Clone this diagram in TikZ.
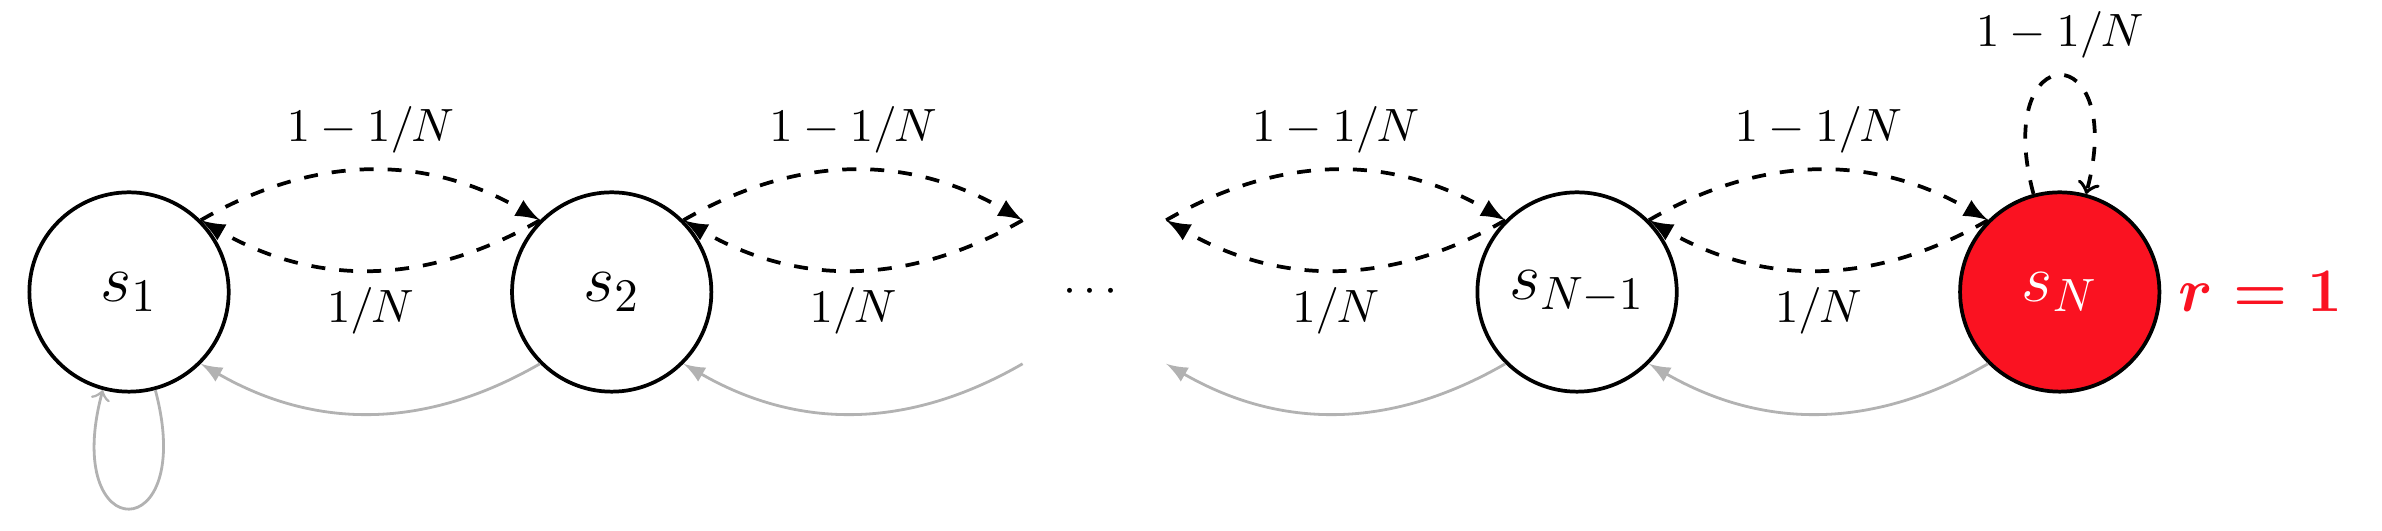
\documentclass[tikz,border=0pt]{standalone}
\usepackage{amsmath}
\usepackage{graphicx}
\usepackage{tikz}
\usetikzlibrary{positioning}
\usetikzlibrary{arrows}
\definecolor{rouge}{rgb}{0.98,0.07,0.13}
\definecolor{gris}{rgb}{0.70,0.70,0.70}

\begin{document}
\begin{tikzpicture}[thick, node distance=3.632cm, on grid,
				state/.style = {circle, draw, font=\Large,
					minimum size = 1.5cm},
				ghost/.style = {circle,
					minimum size = 1.5cm},
				fwd/.style = {dashed, -latex},
				back/.style = {gris, semithick, -latex}]

				\useasboundingbox (-0.971,-1.791) rectangle (16.953,2.197);

				% States
				\node[state] (s1) at (0,0) {$s_1$};
				\node[state, right=of s1] (s2) {$s_2$};
				\node[ghost, right=of s2] (dots) {$\cdots$};
				\node[state, right=of dots] (sN1) {$s_{N-1}$};
				\node[state, fill=rouge, text=white, right=of sN1,
					label={[text=rouge, font=\Large]right:\scalebox{0.92}{$\boldsymbol{r=1}$}}] (sN) {$s_N$};

				% Transitions between neighbours
				\foreach \a/\b in {s1/s2, s2/dots, dots/sN1, sN1/sN} {
					\draw[fwd] (\a.45) to[bend left=30] node[above] {$1-1/N$} (\b.135);
					\draw[fwd] (\b.135) to[bend left=30] node[below] {$1/N$} (\a.45);
					\draw[back] (\b.-135) to[bend left=30] (\a.-45);
				}

				% Loops
				\draw[dashed, ->] (sN) to[loop above] node[above] {$1-1/N$} (sN);
				\draw[back, ->] (s1) to[out=-75, in=-105, loop] (s1);

			\end{tikzpicture}
\end{document}
